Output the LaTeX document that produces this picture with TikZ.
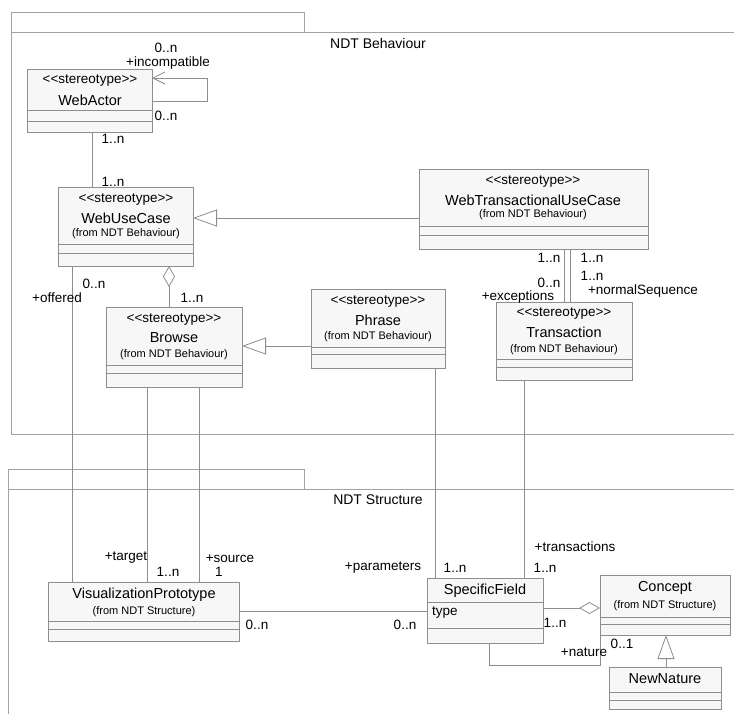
\documentclass[tikz,border=0pt]{standalone}
\usepackage{fontspec}
\setmainfont{Liberation Sans}
\usetikzlibrary{arrows.meta}
\definecolor{umlline}{HTML}{8E8E8E}
\definecolor{pkgline}{HTML}{A2A2A2}
\definecolor{umlfill}{HTML}{F7F7F7}
\newcommand{\stereotag}{<\kern0pt<stereotype>\kern0pt>}
\tikzset{
  umlbox/.style={draw=umlline, fill=umlfill, line width=0.8pt, anchor=north west, inner sep=0pt, outer sep=0pt},
  conn/.style={draw=umlline, line width=0.8pt},
  pkg/.style={draw=pkgline, line width=0.8pt},
  lbl/.style={inner sep=0pt, font=\fontsize{13.5}{13.5}\selectfont},
  cname/.style={inner sep=0pt, font=\fontsize{14.5}{14.5}\selectfont},
  origin/.style={inner sep=0pt, font=\fontsize{11}{11}\selectfont},
  gen/.style={-{Triangle[open, length=24pt, width=17pt]}},
  aggstart/.style={{Diamond[open, length=21pt, width=12pt]}-},
  aggend/.style={-{Diamond[open, length=21pt, width=12pt]}},
  nav/.style={-{Straight Barb[length=12pt, width=12pt]}},
}
\begin{document}
\begin{tikzpicture}[x=1pt, y=-1pt]
\clip (0,0) rectangle (734,713);
\fill[white] (0,0) rectangle (734,713);

% ---- package NDT Behaviour ----
\draw[pkg] (11,32) rectangle (304,12);
\draw[pkg] (760,32) -- (11,32) -- (11,434) -- (760,434);
\node[lbl, font=\fontsize{14}{14}\selectfont] (pkgB) at (378,43) {NDT Behaviour};

% ---- package NDT Structure ----
\draw[pkg] (8,489) rectangle (304,469);
\draw[pkg] (760,489) -- (8,489) -- (8,730);
\node[lbl, font=\fontsize{14}{14}\selectfont] (pkgS) at (378,500) {NDT Structure};

% ---- WebActor ----
\node[umlbox, minimum width=125pt, minimum height=63pt] (wa) at (27,69) {};
\draw[conn] (wa.west |- 0,110) -- (wa.east |- 0,110);
\draw[conn] (wa.west |- 0,121) -- (wa.east |- 0,121);
\node[lbl] (wa-s) at (90,81) {\stereotag};
\node[cname] (wa-n) at (90,100) {WebActor};

% ---- WebUseCase ----
\node[umlbox, minimum width=135pt, minimum height=79pt] (wuc) at (58,187) {};
\draw[conn] (wuc.west |- 0,244) -- (wuc.east |- 0,244);
\draw[conn] (wuc.west |- 0,253) -- (wuc.east |- 0,253);
\node[lbl] (wuc-s) at (126,200) {\stereotag};
\node[cname] (wuc-n) at (126,218) {WebUseCase};
\node[origin] (wuc-o) at (126,234) {(from NDT Behaviour)};

% ---- WebTransactionalUseCase ----
\node[umlbox, minimum width=229pt, minimum height=80pt] (wtuc) at (419,169) {};
\draw[conn] (wtuc.west |- 0,226) -- (wtuc.east |- 0,226);
\draw[conn] (wtuc.west |- 0,235) -- (wtuc.east |- 0,235);
\node[lbl] (wtuc-s) at (533,182) {\stereotag};
\node[cname] (wtuc-n) at (533,200) {WebTransactionalUseCase};
\node[origin] (wtuc-o) at (533,215) {(from NDT Behaviour)};

% ---- Browse ----
\node[umlbox, minimum width=136pt, minimum height=80pt] (br) at (106,307) {};
\draw[conn] (br.west |- 0,365) -- (br.east |- 0,365);
\draw[conn] (br.west |- 0,373) -- (br.east |- 0,373);
\node[lbl] (br-s) at (174,320) {\stereotag};
\node[cname] (br-n) at (174,338) {Browse};
\node[origin] (br-o) at (174,355) {(from NDT Behaviour)};

% ---- Phrase ----
\node[umlbox, minimum width=134pt, minimum height=79pt] (ph) at (311,289) {};
\draw[conn] (ph.west |- 0,347) -- (ph.east |- 0,347);
\draw[conn] (ph.west |- 0,354) -- (ph.east |- 0,354);
\node[lbl] (ph-s) at (378,302) {\stereotag};
\node[cname] (ph-n) at (378,320) {Phrase};
\node[origin] (ph-o) at (378,337) {(from NDT Behaviour)};

% ---- Transaction ----
\node[umlbox, minimum width=136pt, minimum height=78pt] (tr) at (496,302) {};
\draw[conn] (tr.west |- 0,359) -- (tr.east |- 0,359);
\draw[conn] (tr.west |- 0,367) -- (tr.east |- 0,367);
\node[lbl] (tr-s) at (564,314) {\stereotag};
\node[cname] (tr-n) at (564,332) {Transaction};
\node[origin] (tr-o) at (564,350) {(from NDT Behaviour)};

% ---- VisualizationPrototype ----
\node[umlbox, minimum width=191pt, minimum height=59pt] (vp) at (48,582) {};
\draw[conn] (vp.west |- 0,621) -- (vp.east |- 0,621);
\draw[conn] (vp.west |- 0,629) -- (vp.east |- 0,629);
\node[cname] (vp-n) at (144,595) {VisualizationPrototype};
\node[origin] (vp-o) at (144,612) {(from NDT Structure)};

% ---- SpecificField ----
\node[umlbox, minimum width=116pt, minimum height=65pt] (sf) at (427,578) {};
\draw[conn] (sf.west |- 0,602) -- (sf.east |- 0,602);
\draw[conn] (sf.west |- 0,628) -- (sf.east |- 0,628);
\node[cname] (sf-n) at (485,591) {SpecificField};
\node[lbl, anchor=west] (sf-a) at (432,613) {type};

% ---- Concept ----
\node[umlbox, minimum width=130pt, minimum height=60pt] (co) at (600,575) {};
\draw[conn] (co.west |- 0,617) -- (co.east |- 0,617);
\draw[conn] (co.west |- 0,624) -- (co.east |- 0,624);
\node[cname] (co-n) at (665,588) {Concept};
\node[origin] (co-o) at (665,606) {(from NDT Structure)};

% ---- NewNature ----
\node[umlbox, minimum width=112pt, minimum height=42pt] (nn) at (609,667) {};
\draw[conn] (nn.west |- 0,692) -- (nn.east |- 0,692);
\draw[conn] (nn.west |- 0,700) -- (nn.east |- 0,700);
\node[cname] (nn-n) at (665,679) {NewNature};

% ---- connectors ----
% self association of WebActor
\draw[conn, nav] (wa.east |- 0,101) -- (207,101) -- (207,78) -- (wa.east |- 0,78);
\node[lbl] (m1) at (166,48) {0..n};
\node[lbl] (r1) at (168,63) {+incompatible};
\node[lbl] (m2) at (166,116) {0..n};

% WebActor -- WebUseCase
\draw[conn] (wa.south -| 92,0) -- (wuc.north -| 92,0);
\node[lbl] (m3) at (113,139) {1..n};
\node[lbl] (m4) at (113,182) {1..n};

% generalisations
\draw[conn, gen] (wtuc.west |- 0,218) -- (wuc.east |- 0,218);
\draw[conn, gen] (ph.west |- 0,346) -- (br.east |- 0,346);
\draw[conn, gen] (nn.north -| 666,0) -- (co.south -| 666,0);

% WebUseCase <>-- Browse
\draw[conn, aggstart] (wuc.south -| 169,0) -- (br.north -| 169,0);
\node[lbl] (m5) at (192,298) {1..n};

% WebUseCase -- VisualizationPrototype
\draw[conn] (wuc.south -| 72,0) -- (vp.north -| 72,0);
\node[lbl] (m6) at (94,284) {0..n};
\node[lbl] (r2) at (57,298) {+offered};

% Browse -- VisualizationPrototype (target / source)
\draw[conn] (br.south -| 147,0) -- (vp.north -| 147,0);
\draw[conn] (br.south -| 199,0) -- (vp.north -| 199,0);
\node[lbl] (r3) at (126,558) {+target};
\node[lbl] (m7) at (168,572) {1..n};
\node[lbl] (r4) at (230,559) {+source};
\node[lbl] (m8) at (219,572) {1};

% WebTransactionalUseCase -- Transaction
\draw[conn] (wtuc.south -| 564,0) -- (tr.north -| 564,0);
\draw[conn] (wtuc.south -| 570,0) -- (tr.north -| 570,0);
\node[lbl] (m9) at (549,258) {1..n};
\node[lbl] (m10) at (592,258) {1..n};
\node[lbl] (m11) at (549,283) {0..n};
\node[lbl] (r5) at (518,297) {+exceptions};
\node[lbl] (m12) at (592,276) {1..n};
\node[lbl] (r6) at (643,291) {+normalSequence};

% Phrase -- SpecificField
\draw[conn] (ph.south -| 435,0) -- (sf.north -| 435,0);
\node[lbl] (r7) at (383,568) {+parameters};
\node[lbl] (m13) at (455,568) {1..n};

% Transaction -- SpecificField
\draw[conn] (tr.south -| 524,0) -- (sf.north -| 524,0);
\node[lbl] (r8) at (575,547) {+transactions};
\node[lbl] (m14) at (545,568) {1..n};

% VisualizationPrototype -- SpecificField
\draw[conn] (vp.east |- 0,611) -- (sf.west |- 0,611);
\node[lbl] (m15) at (257,625) {0..n};
\node[lbl] (m16) at (405,625) {0..n};

% SpecificField --<> Concept
\draw[conn, aggend] (sf.east |- 0,608) -- (co.west |- 0,608);
\node[lbl] (m17) at (555,623) {1..n};

% SpecificField -- Concept (nature)
\draw[conn] (sf.south -| 489,0) -- (489,665) -- (600,665) -- (co.south west);
\node[lbl] (r9) at (584,652) {+nature};
\node[lbl] (m18) at (622,644) {0..1};
\end{tikzpicture}
\end{document}
